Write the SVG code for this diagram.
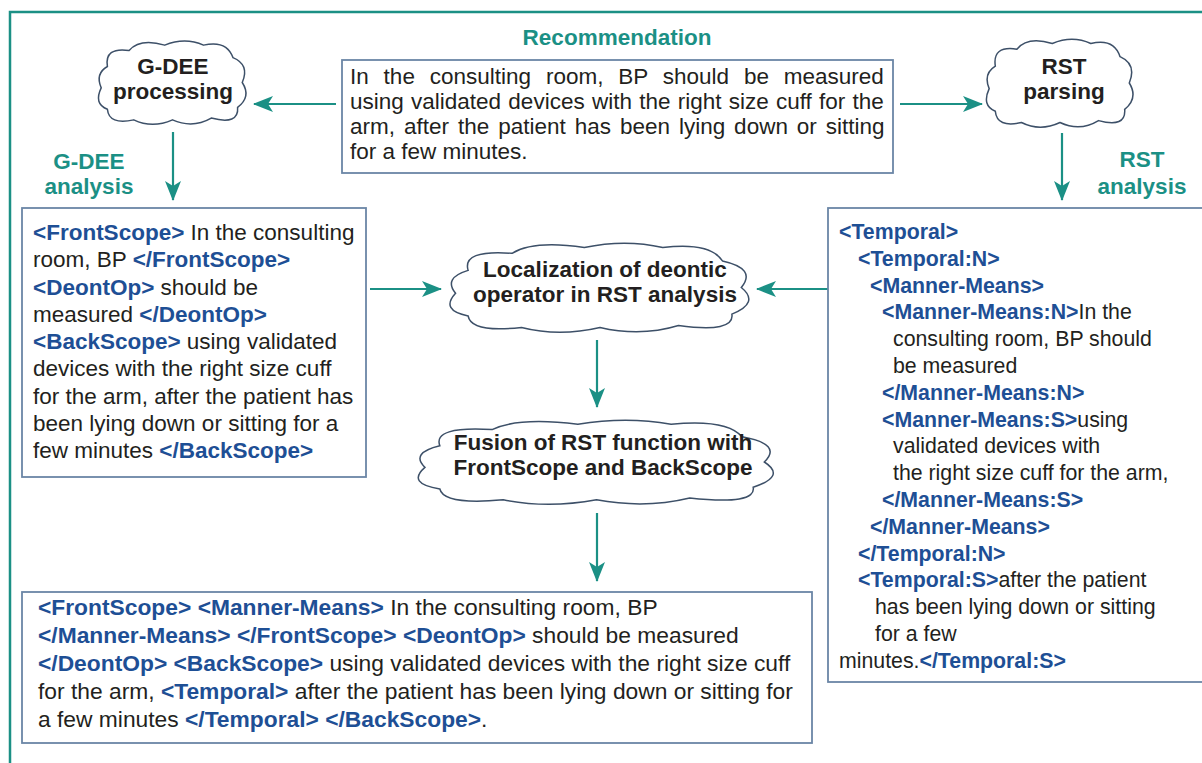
<svg xmlns="http://www.w3.org/2000/svg" xmlns:xlink="http://www.w3.org/1999/xlink" width="1202" height="763" viewBox="0 0 1202 763">
<style>
text{font-family:"Liberation Sans",Arial,sans-serif;fill:#231f20}
.t{font-size:22.5px}
.u{font-size:22.8px}
.r{font-size:21.3px}
.tag{font-weight:bold;fill:#1e4f95}
.teal{font-weight:bold;fill:#1b9085;font-size:22.5px}
.cl{font-weight:bold;font-size:22.5px;text-anchor:middle}
.box{fill:#fff;stroke:#6b86a6;stroke-width:1.8}
.conn{stroke:#1b9085;stroke-width:2.2;fill:none;marker-end:url(#ah)}
.cloud{fill:#fff;stroke:#3d5068;stroke-width:1.5;vector-effect:non-scaling-stroke}
</style>
<defs>
<marker id="ah" markerUnits="userSpaceOnUse" markerWidth="22" markerHeight="18" refX="19" refY="8" orient="auto">
<path d="M0,0 L20,8 L0,16 L5,8 Z" fill="#1b9085"/>
</marker>
<symbol id="cloudshape" viewBox="0 0 200 100" preserveAspectRatio="none" overflow="visible">
<path class="cloud" d="M8,56 Q0,40 16,32 Q12,10 44,14 Q58,0 90,8 Q116,-1 140,8 Q170,2 178,22 Q200,30 190,50 Q202,66 184,78 Q186,98 150,90 Q126,102 100,92 Q74,102 50,92 Q18,98 16,80 Q-2,74 8,56 Z"/>
</symbol>
</defs>

<path d="M10,763 V12 H1202" fill="none" stroke="#1b9085" stroke-width="2.5"/>

<g id="connectors">
<path class="conn" d="M336,104 L254,104"/>
<path class="conn" d="M900,104 L982,104"/>
<path class="conn" d="M173,132 L173,200"/>
<path class="conn" d="M1062,133 L1062,200"/>
<path class="conn" d="M370,289 L441,289"/>
<path class="conn" d="M828,289 L757,289"/>
<path class="conn" d="M597,340 L597,407"/>
<path class="conn" d="M597,513 L597,581"/>
</g>

<g id="recommendation">
<text class="teal" x="617" y="45" text-anchor="middle">Recommendation</text>
<rect class="box" x="342" y="60" width="551" height="113"/>
<text class="t" x="350" y="84" word-spacing="8.6">In the consulting room, BP should be measured</text>
<text class="t" x="350" y="109" word-spacing="1">using validated devices with the right size cuff for the</text>
<text class="t" x="350" y="134" word-spacing="2.7">arm, after the patient has been lying down or sitting</text>
<text class="t" x="350" y="159">for a few minutes.</text>
</g>

<g id="gdee-processing">
<use xlink:href="#cloudshape" x="95" y="38" width="155" height="89"/>
<text class="cl" x="173" y="74">G-DEE</text>
<text class="cl" x="173" y="99">processing</text>
</g>

<g id="rst-parsing">
<use xlink:href="#cloudshape" x="983" y="36" width="154" height="94"/>
<text class="cl" x="1064" y="74">RST</text>
<text class="cl" x="1064" y="99">parsing</text>
</g>

<g id="gdee-analysis-label">
<text class="teal" x="89" y="169" text-anchor="middle">G-DEE</text>
<text class="teal" x="89" y="194" text-anchor="middle">analysis</text>
</g>

<g id="rst-analysis-label">
<text class="teal" x="1142" y="167" text-anchor="middle">RST</text>
<text class="teal" x="1142" y="194" text-anchor="middle">analysis</text>
</g>

<g id="gdee-box">
<rect class="box" x="22" y="208" width="344" height="269"/>
<text class="t" x="33" y="240"><tspan class="tag">&lt;FrontScope&gt;</tspan> In the consulting</text>
<text class="t" x="33" y="267">room, BP <tspan class="tag">&lt;/FrontScope&gt;</tspan></text>
<text class="t" x="33" y="294.5"><tspan class="tag">&lt;DeontOp&gt;</tspan> should be</text>
<text class="t" x="33" y="321.5">measured <tspan class="tag">&lt;/DeontOp&gt;</tspan></text>
<text class="t" x="33" y="349"><tspan class="tag">&lt;BackScope&gt;</tspan> using validated</text>
<text class="t" x="33" y="376">devices with the right size cuff</text>
<text class="t" x="33" y="403.5">for the arm, after the patient has</text>
<text class="t" x="33" y="430.5">been lying down or sitting for a</text>
<text class="t" x="33" y="458">few minutes <tspan class="tag">&lt;/BackScope&gt;</tspan></text>
</g>

<g id="rst-box">
<rect class="box" x="828" y="208" width="390" height="474"/>
<text class="r" x="839" y="239"><tspan class="tag">&lt;Temporal&gt;</tspan></text>
<text class="r" x="858" y="265.8"><tspan class="tag">&lt;Temporal:N&gt;</tspan></text>
<text class="r" x="870" y="292.6"><tspan class="tag">&lt;Manner-Means&gt;</tspan></text>
<text class="r" x="882" y="319.4"><tspan class="tag">&lt;Manner-Means:N&gt;</tspan>In the</text>
<text class="r" x="893" y="346.2">consulting room, BP should</text>
<text class="r" x="893" y="373">be measured</text>
<text class="r" x="882" y="399.8"><tspan class="tag">&lt;/Manner-Means:N&gt;</tspan></text>
<text class="r" x="882" y="426.6"><tspan class="tag">&lt;Manner-Means:S&gt;</tspan>using</text>
<text class="r" x="893" y="453.4">validated devices with</text>
<text class="r" x="893" y="480.2">the right size cuff for the arm,</text>
<text class="r" x="882" y="507"><tspan class="tag">&lt;/Manner-Means:S&gt;</tspan></text>
<text class="r" x="870" y="533.8"><tspan class="tag">&lt;/Manner-Means&gt;</tspan></text>
<text class="r" x="858" y="560.6"><tspan class="tag">&lt;/Temporal:N&gt;</tspan></text>
<text class="r" x="858" y="587.4"><tspan class="tag">&lt;Temporal:S&gt;</tspan>after the patient</text>
<text class="r" x="875" y="614.2">has been lying down or sitting</text>
<text class="r" x="875" y="641">for a few</text>
<text class="r" x="839" y="667.8">minutes.<tspan class="tag">&lt;/Temporal:S&gt;</tspan></text>
</g>

<g id="localization">
<use xlink:href="#cloudshape" x="443" y="240" width="314" height="95"/>
<text class="cl" x="605" y="277">Localization of deontic</text>
<text class="cl" x="605" y="302">operator in RST analysis</text>
</g>

<g id="fusion">
<use xlink:href="#cloudshape" x="410" y="417" width="373" height="90"/>
<text class="cl" x="603" y="450">Fusion of RST function with</text>
<text class="cl" x="603" y="475">FrontScope and BackScope</text>
</g>

<g id="result-box">
<rect class="box" x="22" y="592" width="790" height="151"/>
<text class="u" x="38" y="615"><tspan class="tag">&lt;FrontScope&gt;</tspan> <tspan class="tag">&lt;Manner-Means&gt;</tspan> In the consulting room, BP</text>
<text class="u" x="38" y="643"><tspan class="tag">&lt;/Manner-Means&gt;</tspan> <tspan class="tag">&lt;/FrontScope&gt;</tspan> <tspan class="tag">&lt;DeontOp&gt;</tspan> should be measured</text>
<text class="u" x="38" y="671"><tspan class="tag">&lt;/DeontOp&gt;</tspan> <tspan class="tag">&lt;BackScope&gt;</tspan> using validated devices with the right size cuff</text>
<text class="u" x="38" y="699">for the arm, <tspan class="tag">&lt;Temporal&gt;</tspan> after the patient has been lying down or sitting for</text>
<text class="u" x="38" y="727">a few minutes <tspan class="tag">&lt;/Temporal&gt;</tspan> <tspan class="tag">&lt;/BackScope&gt;</tspan>.</text>
</g>
</svg>
